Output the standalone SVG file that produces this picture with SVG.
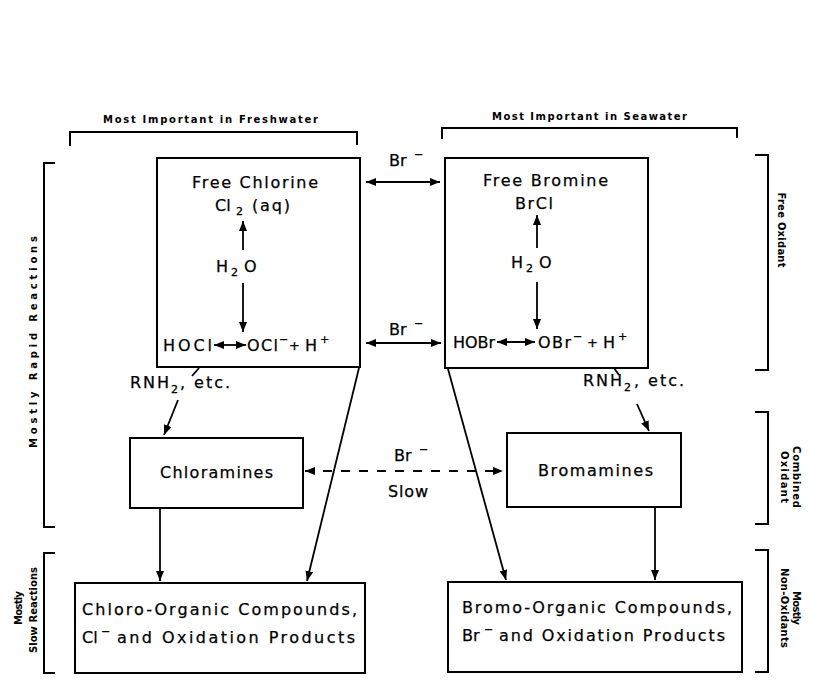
<svg xmlns="http://www.w3.org/2000/svg" width="826" height="681" viewBox="0 0 826 681">
<defs>
<marker id="ah" markerUnits="userSpaceOnUse" markerWidth="11" markerHeight="8" refX="10" refY="4" orient="auto-start-reverse"><path d="M0,0 L10,4 L0,8 z" fill="#000"/></marker>
<style>
.t{font-family:"DejaVu Sans","Liberation Sans",sans-serif;font-size:16px;fill:#000;stroke:#000;stroke-width:0.25}
.p{font-family:"DejaVu Sans","Liberation Sans",sans-serif;font-size:13px;fill:#000;stroke:#000;stroke-width:0.3}
.s{font-family:"DejaVu Sans","Liberation Sans",sans-serif;font-size:11px;fill:#000;stroke:#000;stroke-width:0.3}
.m{font-family:"DejaVu Sans","Liberation Sans",sans-serif;font-size:10px;font-weight:bold;fill:#000}
.box{fill:#fff;stroke:#000;stroke-width:2}
.br{fill:none;stroke:#000;stroke-width:2}
.c{fill:none;stroke:#000;stroke-width:1.8}
.ca{fill:none;stroke:#000;stroke-width:1.8;marker-end:url(#ah)}
.cd{fill:none;stroke:#000;stroke-width:1.8;marker-start:url(#ah);marker-end:url(#ah)}
</style>
</defs>
<rect width="826" height="681" fill="#fff"/>

<g id="brackets">
<path class="br" d="M70,146 V132 H357 V145"/>
<text class="m" x="103" y="123" textLength="215" lengthAdjust="spacing">Most Important in Freshwater</text>
<path class="br" d="M442,139 V128 H737 V138"/>
<text class="m" x="492" y="120" textLength="195" lengthAdjust="spacing">Most Important in Seawater</text>
<path class="br" d="M55,163 H44 V527 H55"/>
<text class="m" transform="translate(37,342) rotate(-90)" x="0" y="0" text-anchor="middle" textLength="212" lengthAdjust="spacing">Mostly Rapid Reactions</text>
<path class="br" d="M55,553 H44 V673 H55"/>
<text class="m" transform="translate(22,608) rotate(-90)" x="0" y="0" text-anchor="middle" textLength="34" lengthAdjust="spacing">Mostly</text>
<text class="m" transform="translate(37,610) rotate(-90)" x="0" y="0" text-anchor="middle" textLength="86" lengthAdjust="spacing">Slow Reactions</text>
<path class="br" d="M755,155 H768 V370 H755"/>
<text class="m" transform="translate(778,230) rotate(90)" x="0" y="0" text-anchor="middle" textLength="75" lengthAdjust="spacing">Free Oxidant</text>
<path class="br" d="M755,412 H768 V524 H755"/>
<text class="m" transform="translate(793,477) rotate(90)" x="0" y="0" text-anchor="middle" textLength="62" lengthAdjust="spacing">Combined</text>
<text class="m" transform="translate(781,477) rotate(90)" x="0" y="0" text-anchor="middle" textLength="52" lengthAdjust="spacing">Oxidant</text>
<path class="br" d="M755,550 H768 V672 H755"/>
<text class="m" transform="translate(793,608) rotate(90)" x="0" y="0" text-anchor="middle" textLength="34" lengthAdjust="spacing">Mostly</text>
<text class="m" transform="translate(781,608) rotate(90)" x="0" y="0" text-anchor="middle" textLength="80" lengthAdjust="spacing">Non-Oxidants</text>
</g>

<g id="free-chlorine">
<rect class="box" x="157" y="158" width="203" height="209"/>
<text class="t" x="192" y="188" textLength="126" lengthAdjust="spacing">Free Chlorine</text>
<text class="t" x="215" y="211">Cl</text>
<text class="s" x="236" y="215">2</text>
<text class="t" x="252" y="211" textLength="38" lengthAdjust="spacing">(aq)</text>
<text class="t" x="216" y="272">H</text>
<text class="s" x="231" y="276">2</text>
<text class="t" x="244" y="272">O</text>
<path class="ca" d="M243,250 V221"/>
<path class="ca" d="M243,283 V332"/>
<text class="t" x="163" y="351" textLength="49" lengthAdjust="spacing">HOCl</text>
<path class="cd" d="M214,345 H246"/>
<text class="t" x="247" y="351" textLength="31" lengthAdjust="spacing">OCl</text>
<text class="s" x="279" y="343">−</text>
<text class="p" x="289" y="350">+</text>
<text class="t" x="305" y="351">H</text>
<text class="s" x="320" y="343">+</text>
</g>

<g id="free-bromine">
<rect class="box" x="445" y="158" width="203" height="210"/>
<text class="t" x="483" y="186" textLength="125" lengthAdjust="spacing">Free Bromine</text>
<text class="t" x="515" y="209" textLength="38" lengthAdjust="spacing">BrCl</text>
<text class="t" x="511" y="268">H</text>
<text class="s" x="526" y="272">2</text>
<text class="t" x="539" y="268">O</text>
<path class="ca" d="M537,248 V215"/>
<path class="ca" d="M537,282 V329"/>
<text class="t" x="453" y="348" textLength="42" lengthAdjust="spacing">HOBr</text>
<path class="cd" d="M497,342 H535"/>
<text class="t" x="538" y="348" textLength="33" lengthAdjust="spacing">OBr</text>
<text class="s" x="573" y="340">−</text>
<text class="p" x="587" y="347">+</text>
<text class="t" x="603" y="348">H</text>
<text class="s" x="618" y="340">+</text>
</g>

<g id="chloramines">
<rect class="box" x="130" y="438" width="173" height="70"/>
<text class="t" x="160" y="478" textLength="113" lengthAdjust="spacing">Chloramines</text>
</g>

<g id="bromamines">
<rect class="box" x="507" y="433" width="174" height="74"/>
<text class="t" x="538" y="476" textLength="115" lengthAdjust="spacing">Bromamines</text>
</g>

<g id="chloro-organic">
<rect class="box" x="75" y="583" width="290" height="90"/>
<text class="t" x="82" y="615" textLength="275" lengthAdjust="spacing">Chloro-Organic Compounds,</text>
<text class="t" x="82" y="643">Cl</text>
<text class="s" x="101" y="635">−</text>
<text class="t" x="117" y="643" textLength="238" lengthAdjust="spacing">and Oxidation Products</text>
</g>

<g id="bromo-organic">
<rect class="box" x="448" y="582" width="294" height="90"/>
<text class="t" x="462" y="613" textLength="270" lengthAdjust="spacing">Bromo-Organic Compounds,</text>
<text class="t" x="462" y="641">Br</text>
<text class="s" x="484" y="633">−</text>
<text class="t" x="499" y="641" textLength="226" lengthAdjust="spacing">and Oxidation Products</text>
</g>

<g id="connectors">
<path class="cd" d="M366,182 H440"/>
<text class="t" x="389" y="166">Br</text>
<text class="s" x="414" y="158">−</text>
<path class="cd" d="M366,343 H441"/>
<text class="t" x="389" y="335">Br</text>
<text class="s" x="414" y="327">−</text>
<path class="cd" d="M305,471 H503" stroke-dasharray="9,9"/>
<text class="t" x="394" y="461">Br</text>
<text class="s" x="419" y="453">−</text>
<text class="t" x="388" y="497" textLength="40" lengthAdjust="spacing">Slow</text>
<path class="ca" d="M359,368 L307,581"/>
<path class="ca" d="M448,369 L506,580"/>
<path class="ca" d="M160,508 V581"/>
<path class="ca" d="M655,507 V580"/>
<path class="c" d="M199,368 L192,376"/>
<path class="ca" d="M178,400 L164,435"/>
<text class="t" x="130" y="388" textLength="39" lengthAdjust="spacing">RNH</text>
<text class="s" x="171" y="393">2</text>
<text class="t" x="180" y="388" textLength="50" lengthAdjust="spacing">, etc.</text>
<path class="c" d="M614,368 L619,375"/>
<path class="ca" d="M637,404 L649,431"/>
<text class="t" x="583" y="386" textLength="39" lengthAdjust="spacing">RNH</text>
<text class="s" x="624" y="391">2</text>
<text class="t" x="634" y="386" textLength="50" lengthAdjust="spacing">, etc.</text>
</g>
</svg>
